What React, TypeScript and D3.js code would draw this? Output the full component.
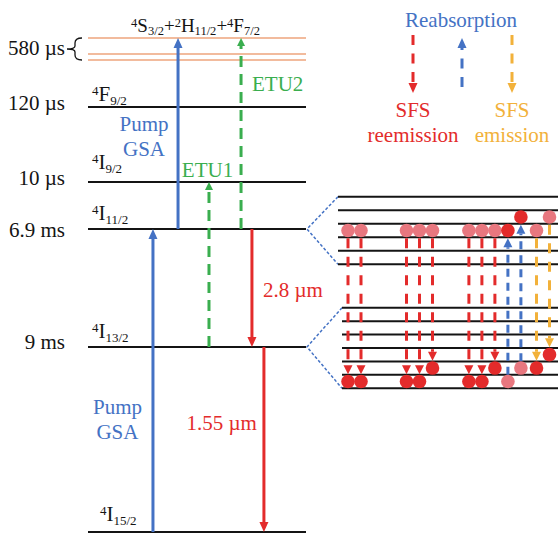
import React from "react";
import * as d3 from "d3";

// ---- data ----
// Er3+ manifolds, energies in diagram units (ground state = 0)
const levelTerms = [
  ["4", "I", "15/2"],
  ["4", "I", "13/2"],
  ["4", "I", "11/2"],
  ["4", "I", "9/2"],
  ["4", "F", "9/2"],
];
const levelEnergies = [0, 185, 303, 350, 425];
const levelLifetimes = ["", "9 ms", "6.9 ms", "10 µs", "120 µs"];

const greenEnergies = [472, 478, 494];
const greenTerms = [
  ["4", "S", "3/2"],
  ["2", "H", "11/2"],
  ["4", "F", "7/2"],
];
const greenLifetime = "580 µs";

// main transitions (col = position across the level lines, 0..1)
const pumpSteps = [
  { from: 0, to: 303, col: 0.298 },
  { from: 303, to: 494, col: 0.413 },
];
const etuSteps = [
  { from: 185, to: 350, col: 0.555, name: "ETU1" },
  { from: 303, to: 494, col: 0.702, name: "ETU2" },
];
const emissionSteps = [
  { from: 303, to: 185, col: 0.752, name: "2.8 µm" },
  { from: 185, to: 0, col: 0.807, name: "1.55 µm" },
];

// Stark sub-levels in the zoomed view
const upperStark = 6; // 4I11/2
const lowerStark = 7; // 4I13/2
// u = upper manifold, l = lower manifold, index counted from the bottom sub-level
const starkSteps = [
  { col: 0, kind: "reem", from: ["u", 2], to: ["l", 0] },
  { col: 1, kind: "reem", from: ["u", 2], to: ["l", 0] },
  { col: 4.5, kind: "reem", from: ["u", 2], to: ["l", 0] },
  { col: 5.5, kind: "reem", from: ["u", 2], to: ["l", 0] },
  { col: 6.5, kind: "reem", from: ["u", 2], to: ["l", 1] },
  { col: 9.3, kind: "reem", from: ["u", 2], to: ["l", 0] },
  { col: 10.3, kind: "reem", from: ["u", 2], to: ["l", 0] },
  { col: 11.3, kind: "reem", from: ["u", 2], to: ["l", 1] },
  { col: 12.3, kind: "reab", from: ["l", 0], to: ["u", 2] },
  { col: 13.3, kind: "reab", from: ["l", 1], to: ["u", 3] },
  { col: 14.5, kind: "emit", from: ["u", 2], to: ["l", 1] },
  { col: 15.5, kind: "emit", from: ["u", 3], to: ["l", 2] },
];

const legendItems = [
  { kind: "reem", lines: ["SFS", "reemission"], up: false },
  { kind: "reab", lines: [], up: true },
  { kind: "emit", lines: ["SFS", "emission"], up: false },
];

// ---- style ----
const W = 558;
const H = 533;
const FONT = "Liberation Serif, Times New Roman, DejaVu Serif, serif";
const BLUE = "#4472c4";
const RED = "#e32b2b";
const GREEN = "#3aae4f";
const GOLD = "#f2b13a";
const PINK = "#e8777f";
const SALMON = "#eea47c";
const INK = "#141414";
const kindColor: Record<string, string> = { reem: RED, reab: BLUE, emit: GOLD };

function termSpans(terms: string[][], big: number, small: number, sup: number, sub: number) {
  const out: React.ReactNode[] = [];
  let cur = 0;
  terms.forEach((t, i) => {
    if (i > 0) {
      out.push(<tspan key={"p" + i} dy={-cur} fontSize={big}>+</tspan>);
      cur = 0;
    }
    out.push(<tspan key={"a" + i} dy={-sup - cur} fontSize={small}>{t[0]}</tspan>);
    cur = -sup;
    out.push(<tspan key={"b" + i} dy={-cur} fontSize={big}>{t[1]}</tspan>);
    cur = 0;
    out.push(<tspan key={"c" + i} dy={sub - cur} fontSize={small}>{t[2]}</tspan>);
    cur = sub;
  });
  return out;
}

function Arrow({ x, y1, y2, color, width = 3, dash, head = 10, headW = 9 }: any) {
  const dir = Math.sign(y2 - y1);
  const base = y2 - dir * head;
  return (
    <g>
      <line x1={x} x2={x} y1={y1} y2={base} stroke={color} strokeWidth={width} strokeDasharray={dash} />
      <path d={`M${x - headW / 2},${base}L${x + headW / 2},${base}L${x},${y2}Z`} fill={color} />
    </g>
  );
}

export default function App() {
  const y = d3.scaleLinear().domain([0, 494]).range([532, 38]);
  const x = d3.scaleLinear().domain([0, 1]).range([88, 306]);

  // zoomed Stark view
  const sx = d3.scaleLinear().domain([0, 15.5]).range([348, 549.5]);
  const uy = d3.scaleLinear().domain([0, upperStark - 1]).range([264.3, 196.7]);
  const ly = d3.scaleLinear().domain([0, lowerStark - 1]).range([388.3, 307.7]);
  const subY = (s: any[]) => (s[0] === "u" ? uy(s[1]) : ly(s[1]));
  const r = 6.8;

  const termX = [100, 92, 92, 92, 92];
  const termDy = [-11, -9, -9, -13, -6];
  const lifeDy = [0, 2, 8, 3, 3];
  const greenMid = (y(greenEnergies[0]) + y(greenEnergies[greenEnergies.length - 1])) / 2;

  const upMid = y(levelEnergies[2]);
  const loMid = y(levelEnergies[1]);

  return (
    <svg width={W} height={H} style={{ position: "absolute", left: 0, top: 0, fontFamily: FONT }}>
      <rect width={W} height={H} fill="#fff" />

      {/* green manifold lines */}
      {greenEnergies.map((e, i) => (
        <line key={"g" + i} x1={x(0)} x2={x(1)} y1={y(e)} y2={y(e)} stroke={SALMON} strokeWidth={1.6} />
      ))}
      <text x={195.5} y={y(494) - 6.5} textAnchor="middle" fontSize={19} fill={INK}>
        {termSpans(greenTerms, 19, 12.5, 5, 3.5)}
      </text>
      <text x={65} y={greenMid + 6} textAnchor="end" fontSize={21} fill={INK}>{greenLifetime}</text>
      <path
        d={`M82,${y(494)} Q75,${y(494)} 75,${y(494) + 5} L75,${greenMid - 3} Q75,${greenMid} 67,${greenMid} Q75,${greenMid} 75,${greenMid + 3} L75,${y(472) - 5} Q75,${y(472)} 82,${y(472)}`}
        fill="none" stroke={INK} strokeWidth={1.3}
      />

      {/* main manifolds */}
      {levelEnergies.map((e, i) => (
        <g key={"l" + i}>
          <line x1={x(0)} x2={x(1)} y1={y(e)} y2={y(e)} stroke={INK} strokeWidth={2} />
          <text x={termX[i]} y={y(e) + termDy[i]} fontSize={21} fill={INK}>
            {termSpans([levelTerms[i]], 21, 13, 6, 3.5)}
          </text>
          {levelLifetimes[i] && (
            <text x={65} y={y(e) + lifeDy[i]} textAnchor="end" fontSize={21} fill={INK}>{levelLifetimes[i]}</text>
          )}
        </g>
      ))}

      {/* pump */}
      {pumpSteps.map((s, i) => (
        <Arrow key={"pu" + i} x={x(s.col)} y1={y(s.from)} y2={y(s.to)} color={BLUE} />
      ))}
      <g fill={BLUE} fontSize={21} textAnchor="middle">
        <text x={x(pumpSteps[1].col) - 34} y={131}>Pump</text>
        <text x={x(pumpSteps[1].col) - 34} y={156}>GSA</text>
        <text x={x(pumpSteps[0].col) - 35.5} y={414}>Pump</text>
        <text x={x(pumpSteps[0].col) - 35.5} y={439}>GSA</text>
      </g>

      {/* ETU */}
      {etuSteps.map((s, i) => (
        <Arrow key={"et" + i} x={x(s.col)} y1={y(s.from)} y2={y(s.to)} color={GREEN} dash="11 7" head={8} headW={8} />
      ))}
      <g fill={GREEN} fontSize={21}>
        <text x={x(etuSteps[0].col) - 1.5} y={y(etuSteps[0].to) - 5} textAnchor="middle">{etuSteps[0].name}</text>
        <text x={x(etuSteps[1].col) + 11} y={91}>{etuSteps[1].name}</text>
      </g>

      {/* emissions */}
      {emissionSteps.map((s, i) => (
        <Arrow key={"em" + i} x={x(s.col)} y1={y(s.from)} y2={y(s.to)} color={RED} />
      ))}
      <g fill={RED} fontSize={21}>
        <text x={x(emissionSteps[0].col) + 11} y={297}>{emissionSteps[0].name}</text>
        <text x={x(emissionSteps[1].col) - 7} y={430} textAnchor="end">{emissionSteps[1].name}</text>
      </g>

      {/* zoom funnels */}
      <g stroke={BLUE} strokeWidth={1.5} strokeDasharray="3 2" fill="none">
        <path d={`M338,${uy(upperStark - 1)}L307,${upMid}L338,${uy(0)}`} />
        <path d={`M342,${ly(lowerStark - 1)}L307,${loMid}L342,${ly(0)}`} />
      </g>

      {/* Stark sub-levels */}
      {d3.range(upperStark).map((i) => (
        <line key={"us" + i} x1={338} x2={W} y1={uy(i)} y2={uy(i)} stroke={INK} strokeWidth={2} />
      ))}
      {d3.range(lowerStark).map((i) => (
        <line key={"ls" + i} x1={342} x2={W} y1={ly(i)} y2={ly(i)} stroke={INK} strokeWidth={2} />
      ))}

      {starkSteps.map((s, i) => {
        const a = subY(s.from);
        const b = subY(s.to);
        const down = b > a;
        const y1 = down ? a + 1 : a - 2 * r;
        const y2 = down ? b - 2 * r - 0.5 : b + 1;
        return (
          <Arrow key={"sa" + i} x={sx(s.col)} y1={y1} y2={y2} color={kindColor[s.kind]}
            dash={s.kind === "reab" ? "8 6" : "10 8.5"} head={9} headW={9} />
        );
      })}
      {starkSteps.map((s, i) => (
        <g key={"sc" + i}>
          <circle cx={sx(s.col)} cy={subY(s.from) - r} r={r} fill={PINK} />
          <circle cx={sx(s.col)} cy={subY(s.to) - r} r={r} fill={RED} />
        </g>
      ))}

      {/* legend */}
      <text x={461} y={27} textAnchor="middle" fontSize={21} fill={BLUE}>Reabsorption</text>
      {legendItems.map((d, i) => {
        const lx = [413, 462, 512][i];
        return (
          <g key={"lg" + i}>
            <Arrow x={lx} y1={d.up ? 87 : 35} y2={d.up ? 38 : 93} color={kindColor[d.kind]}
              dash="10 8.5" head={10} headW={9} />
            {d.lines.map((t, j) => (
              <text key={j} x={lx} y={117 + j * 25} textAnchor="middle" fontSize={21} fill={kindColor[d.kind]}>{t}</text>
            ))}
          </g>
        );
      })}
    </svg>
  );
}
